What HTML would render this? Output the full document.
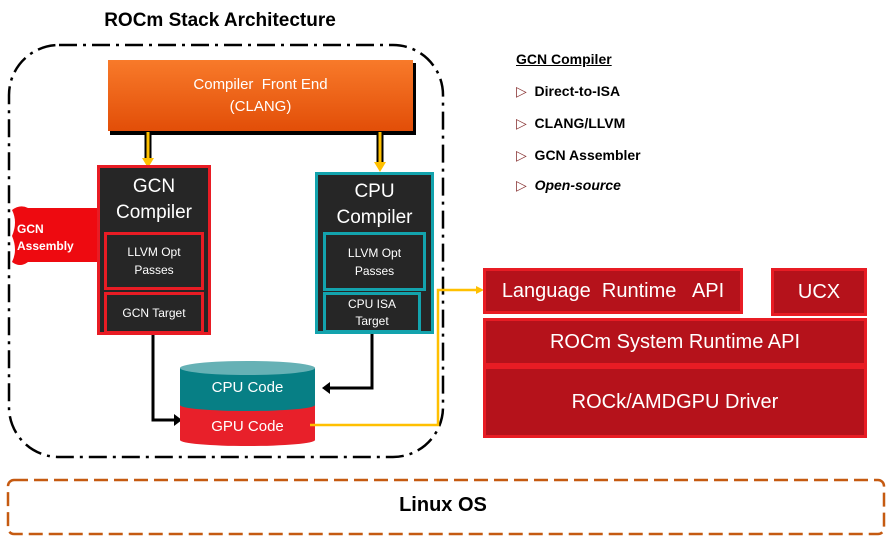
<!DOCTYPE html>
<html><head><style>
body{margin:0;width:886px;height:537px;background:#fff;position:relative;overflow:hidden;font-family:"Liberation Sans",sans-serif}
.a{position:absolute;box-sizing:border-box;display:flex;align-items:center;justify-content:center;text-align:center;color:#fff}
.b{position:absolute;font-weight:bold;font-size:14px;color:#000}
</style></head><body>
<svg width="886" height="537" style="position:absolute;left:0;top:0">
<defs><linearGradient id="o" x1="0" y1="0" x2="0" y2="1"><stop offset="0" stop-color="#f87a2a"/><stop offset="1" stop-color="#e24e08"/></linearGradient></defs>
<rect x="9" y="45" width="434" height="412" rx="50" fill="none" stroke="#000" stroke-width="2.5" stroke-dasharray="18,6,3,6"/>
<rect x="8" y="480" width="876" height="54" rx="6" fill="none" stroke="#c55a11" stroke-width="2.5" stroke-dasharray="14,6"/>
<rect x="110" y="63" width="306" height="72" fill="#000"/>
<rect x="108" y="60" width="305" height="71" fill="url(#o)"/>
<g stroke="#000" stroke-width="7"><line x1="148" y1="132" x2="148" y2="160"/><line x1="380" y1="132" x2="380" y2="166"/></g>
<g stroke="#ffc000" stroke-width="3"><line x1="148" y1="132" x2="148" y2="160"/><line x1="380" y1="132" x2="380" y2="166"/></g>
<polygon points="142,158 154,158 148,168" fill="#ffc000"/><polygon points="374,162 386,162 380,172" fill="#ffc000"/>
<path d="M12,210 Q20,204 28,208 L97,208 L97,262 L28,262 Q20,268 12,262 Q18,250 12,236 Q18,222 12,210Z" fill="#ee0a10"/>
<polyline points="153,335 153,420 176,420" fill="none" stroke="#000" stroke-width="3"/><polygon points="174,414 182,420 174,426" fill="#000"/>
<polyline points="372,333 372,388 328,388" fill="none" stroke="#000" stroke-width="3"/><polygon points="330,382 322,388 330,394" fill="#000"/>
<path d="M180,405 L180,440 A67,6 0 0 0 315,440 L315,405Z" fill="#e8202a"/>
<path d="M180,368 L180,405 A67,6 0 0 0 315,405 L315,368Z" fill="#077f85"/>
<ellipse cx="247.5" cy="368" rx="67.5" ry="7" fill="#66b1b5"/>
<polyline points="310,425 438,425 438,290 478,290" fill="none" stroke="#ffc000" stroke-width="2.5"/><polygon points="476,286 484,290 476,294" fill="#ffc000"/>
</svg>
<div class="b" style="left:0;width:440px;top:10px;font-size:19px;text-align:center">ROCm Stack Architecture</div>
<div class="a" style="left:108px;top:62px;width:305px;height:68px;font-size:15px;line-height:22px">Compiler&nbsp; Front End<br>(CLANG)</div>
<div class="a" style="left:17px;top:218px;width:80px;height:40px;font-size:12px;font-weight:bold;justify-content:flex-start;text-align:left;line-height:17px">GCN<br>Assembly</div>
<div class="a" style="left:97px;top:165px;width:114px;height:170px;background:#262626;border:3px solid #e81c24;align-items:flex-start;font-size:19px;line-height:26px;padding-top:6px">GCN<br>Compiler</div>
<div class="a" style="left:104px;top:232px;width:100px;height:58px;border:3px solid #e81c24;font-size:12px;line-height:18px">LLVM Opt<br>Passes</div>
<div class="a" style="left:104px;top:292px;width:100px;height:42px;border:3px solid #e81c24;font-size:12px">GCN Target</div>
<div class="a" style="left:315px;top:172px;width:119px;height:162px;background:#262626;border:3px solid #13a3ad;align-items:flex-start;font-size:19px;line-height:26px;padding-top:4px">CPU<br>Compiler</div>
<div class="a" style="left:323px;top:232px;width:103px;height:59px;border:3px solid #13a3ad;font-size:12px;line-height:18px">LLVM Opt<br>Passes</div>
<div class="a" style="left:323px;top:292px;width:98px;height:41px;border:3px solid #13a3ad;font-size:12px;line-height:17px">CPU ISA<br>Target</div>
<div class="a" style="left:180px;top:374px;width:135px;height:26px;font-size:15px">CPU Code</div>
<div class="a" style="left:180px;top:413px;width:135px;height:26px;font-size:15px">GPU Code</div>
<div class="b" style="left:516px;top:51px;text-decoration:underline">GCN Compiler</div>
<div class="b" style="left:516px;top:83px"><span style="color:#833;font-weight:normal">&#9655;</span>&nbsp; Direct-to-ISA</div>
<div class="b" style="left:516px;top:115px"><span style="color:#833;font-weight:normal">&#9655;</span>&nbsp; CLANG/LLVM</div>
<div class="b" style="left:516px;top:147px"><span style="color:#833;font-weight:normal">&#9655;</span>&nbsp; GCN Assembler</div>
<div class="b" style="left:516px;top:177px"><span style="color:#833;font-weight:normal">&#9655;</span>&nbsp; <i>Open-source</i></div>
<div class="a" style="left:483px;top:268px;width:260px;height:46px;background:#b5121b;border:3px solid #e81c24;font-size:20px">Language&nbsp; Runtime&nbsp;&nbsp; API</div>
<div class="a" style="left:771px;top:268px;width:96px;height:48px;background:#b5121b;border:3px solid #e81c24;font-size:20px">UCX</div>
<div class="a" style="left:483px;top:318px;width:384px;height:48px;background:#b5121b;border:3px solid #e81c24;font-size:20px">ROCm System Runtime API</div>
<div class="a" style="left:483px;top:366px;width:384px;height:72px;background:#b5121b;border:3px solid #e81c24;font-size:20px">ROCk/AMDGPU Driver</div>
<div class="b" style="left:0;width:886px;top:494px;font-size:20px;text-align:center">Linux OS</div>
</body></html>
